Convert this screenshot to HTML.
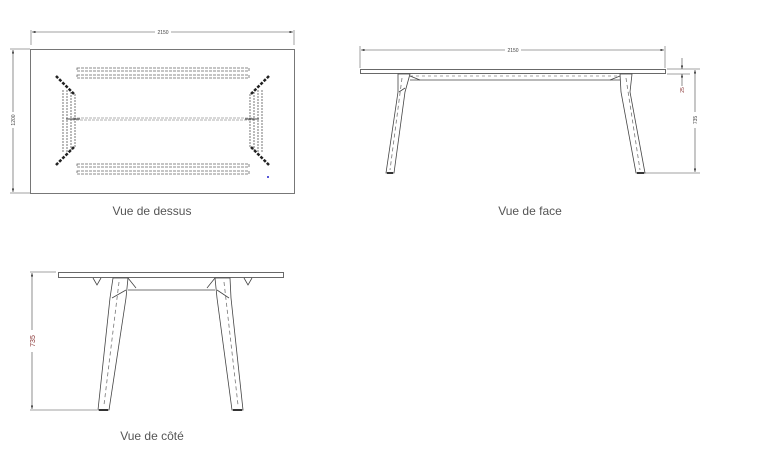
<!DOCTYPE html>
<html><head><meta charset="utf-8"><style>
html,body{margin:0;padding:0;background:#fff;width:776px;height:464px;overflow:hidden}
svg{display:block}
text{font-family:"Liberation Sans",sans-serif}
</style></head><body>
<svg width="776" height="464" viewBox="0 0 776 464" xmlns="http://www.w3.org/2000/svg">
<defs>
<marker id="a" markerWidth="6" markerHeight="4" refX="6" refY="2" orient="auto"><path d="M0,0L6,2L0,4z" fill="#333"/></marker>
<marker id="b" markerWidth="6" markerHeight="4" refX="0" refY="2" orient="auto"><path d="M6,0L0,2L6,4z" fill="#333"/></marker>
</defs>
<g stroke="#444" fill="none" stroke-width="0.8">
<!-- TOP VIEW -->
<line x1="31" y1="45" x2="31" y2="30" stroke-width="0.5"/>
<line x1="294" y1="45" x2="294" y2="30" stroke-width="0.5"/>
<line x1="32" y1="32" x2="155" y2="32" marker-start="url(#b)" stroke-width="0.6"/>
<line x1="171" y1="32" x2="293" y2="32" marker-end="url(#a)" stroke-width="0.6"/>
<line x1="10" y1="49" x2="30" y2="49" stroke-width="0.5"/>
<line x1="10" y1="193" x2="30" y2="193" stroke-width="0.5"/>
<line x1="13" y1="50" x2="13" y2="112" marker-start="url(#b)" stroke-width="0.6"/>
<line x1="13" y1="128" x2="13" y2="192" marker-end="url(#a)" stroke-width="0.6"/>
<rect x="30.5" y="49.5" width="264" height="144" stroke="#555"/>
<g stroke="#666" stroke-dasharray="3,1">
<rect x="77" y="68" width="172" height="3"/>
<rect x="77" y="75" width="172" height="3"/>
<rect x="77" y="164" width="172" height="3"/>
<rect x="77" y="171" width="172" height="3"/>
<rect x="73" y="118" width="180" height="2" stroke="#999"/>
</g>
<g stroke="#555" stroke-width="0.8" stroke-dasharray="2,1">
<line x1="63" y1="90" x2="63" y2="152"/><line x1="67" y1="90" x2="67" y2="152"/><line x1="71" y1="92" x2="71" y2="150"/><line x1="75" y1="94" x2="75" y2="148"/>
<line x1="262" y1="90" x2="262" y2="152"/><line x1="258" y1="90" x2="258" y2="152"/><line x1="254" y1="92" x2="254" y2="150"/><line x1="250" y1="94" x2="250" y2="148"/>
</g>
<g stroke="#222" stroke-width="2.5" stroke-dasharray="3,1.5">
<line x1="56" y1="76" x2="74" y2="94"/><line x1="56" y1="165" x2="74" y2="147"/>
<line x1="269" y1="76" x2="251" y2="94"/><line x1="269" y1="165" x2="251" y2="147"/>
</g>
<line x1="66" y1="119" x2="80" y2="119" stroke="#222"/><line x1="245" y1="119" x2="259" y2="119" stroke="#222"/>
<!-- FRONT VIEW -->
<line x1="361" y1="50" x2="505" y2="50" marker-start="url(#b)" stroke-width="0.6"/>
<line x1="521" y1="50" x2="664" y2="50" marker-end="url(#a)" stroke-width="0.6"/>
<line x1="360" y1="46" x2="360" y2="68" stroke-width="0.5"/>
<line x1="665" y1="46" x2="665" y2="68" stroke-width="0.5"/>
<rect x="360.5" y="69.5" width="305" height="4"/>
<line x1="410" y1="80" x2="620" y2="80"/>
<line x1="410" y1="76" x2="620" y2="76" stroke-dasharray="3,3" stroke="#888"/>
<path d="M410,76 L420,80 M620,76 L610,80"/>
<path d="M398,74 L410,74 L405,92 L394,173 L386,173 L398,92 Z"/>
<path d="M399,92 L405,88" /><line x1="402" y1="78" x2="390" y2="170" stroke-dasharray="4,3" stroke="#777"/>
<path d="M620,74 L632,74 L630,92 L645,173 L636,173 L621,92 Z"/>
<line x1="626" y1="78" x2="640" y2="170" stroke-dasharray="4,3" stroke="#777"/>
<line x1="387" y1="173" x2="393" y2="173" stroke-width="2" stroke="#333"/>
<line x1="637" y1="173" x2="644" y2="173" stroke-width="2" stroke="#333"/>
<line x1="667" y1="69" x2="700" y2="69" stroke-width="0.5"/>
<line x1="667" y1="74" x2="690" y2="74" stroke-width="0.5"/>
<line x1="682" y1="58" x2="682" y2="69" marker-end="url(#a)" stroke-width="0.6"/>
<line x1="682" y1="86" x2="682" y2="74" marker-end="url(#a)" stroke-width="0.6"/>
<line x1="695" y1="70" x2="695" y2="112" marker-start="url(#b)" stroke-width="0.6"/>
<line x1="695" y1="128" x2="695" y2="172" marker-end="url(#a)" stroke-width="0.6"/>
<line x1="640" y1="173" x2="700" y2="173" stroke-width="0.5"/>
<!-- SIDE VIEW -->
<rect x="58.5" y="272.5" width="225" height="5"/>
<line x1="30" y1="272" x2="56" y2="272" stroke-width="0.5"/>
<line x1="30" y1="410" x2="97" y2="410" stroke-width="0.5"/>
<line x1="32" y1="273" x2="32" y2="330" marker-start="url(#b)" stroke-width="0.6"/>
<line x1="32" y1="352" x2="32" y2="409" marker-end="url(#a)" stroke-width="0.6"/>
<path d="M93,278 L97,285 L101,278 M244,278 L248,285 L252,278"/>
<line x1="128" y1="290" x2="215" y2="290"/>
<path d="M128,278 L136,288 M215,278 L207,288"/>
<path d="M113,278 L128,278 L126,298 L109,410 L98,410 L110,298 Z"/>
<line x1="112" y1="298" x2="126" y2="290"/>
<line x1="119" y1="282" x2="104" y2="405" stroke-dasharray="4,3" stroke="#777"/>
<path d="M215,278 L230,278 L231,298 L243,410 L232,410 L217,298 Z"/>
<line x1="217" y1="290" x2="229" y2="298"/>
<line x1="224" y1="282" x2="238" y2="405" stroke-dasharray="4,3" stroke="#777"/>
<line x1="99" y1="410" x2="108" y2="410" stroke-width="2" stroke="#333"/>
<line x1="233" y1="410" x2="242" y2="410" stroke-width="2" stroke="#333"/>
</g>
<circle cx="268" cy="177" r="1" fill="#22c"/>
<g fill="#444" font-size="5">
<text x="163" y="34" text-anchor="middle">2150</text>
<text x="513" y="52" text-anchor="middle">2150</text>
<text transform="translate(15,120) rotate(-90)" text-anchor="middle">1200</text>
<text transform="translate(684,90) rotate(-90)" text-anchor="middle" fill="#833">25</text>
<text transform="translate(697,120) rotate(-90)" text-anchor="middle">735</text>
<text transform="translate(35,341) rotate(-90)" text-anchor="middle" font-size="7" fill="#833">735</text>
</g>
<g fill="#555" font-size="12" text-anchor="middle">
<text x="152" y="215">Vue de dessus</text>
<text x="530" y="215">Vue de face</text>
<text x="152" y="440">Vue de côté</text>
</g>
</svg>
</body></html>
